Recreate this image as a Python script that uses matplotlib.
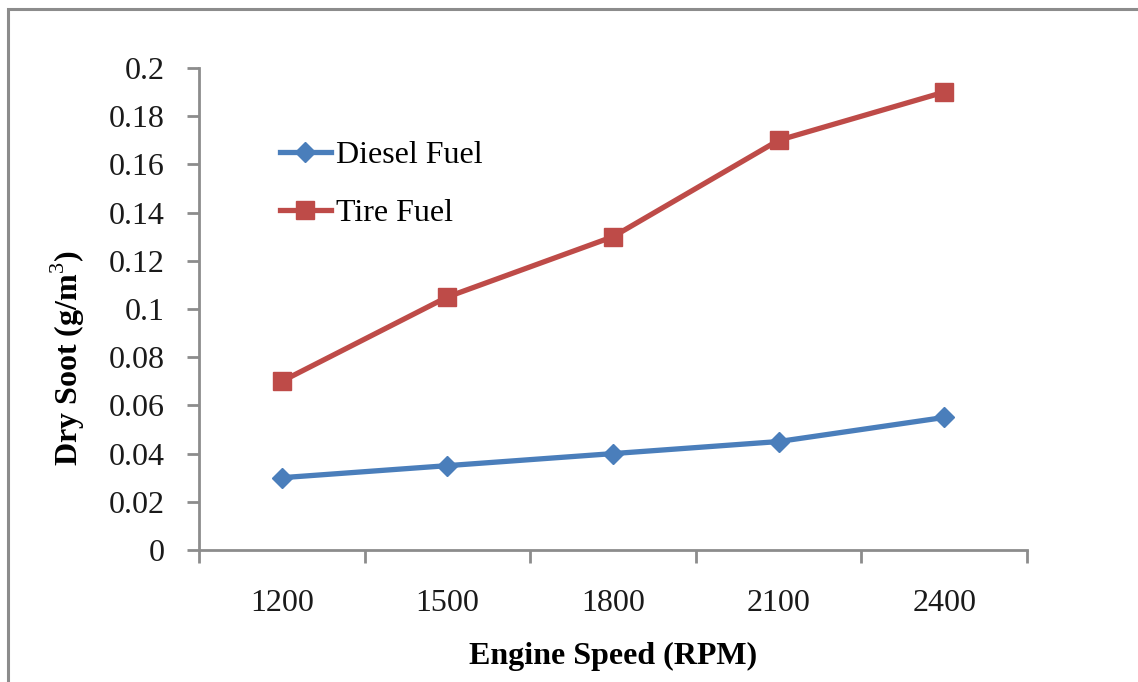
import matplotlib
matplotlib.use("Agg")
import matplotlib.pyplot as plt
from matplotlib.patches import Rectangle

categories = ["1200", "1500", "1800", "2100", "2400"]
diesel = [0.03, 0.035, 0.04, 0.045, 0.055]
tire = [0.07, 0.105, 0.13, 0.17, 0.19]
yticks = [0, 0.02, 0.04, 0.06, 0.08, 0.1, 0.12, 0.14, 0.16, 0.18, 0.2]
ytick_labels = ["0", "0.02", "0.04", "0.06", "0.08", "0.1", "0.12", "0.14", "0.16", "0.18", "0.2"]

plt.rcParams['font.family'] = ['Liberation Serif', 'DejaVu Serif']
plt.rcParams['mathtext.fontset'] = 'custom'
plt.rcParams['mathtext.rm'] = 'Liberation Serif'
plt.rcParams['mathtext.bf'] = 'Liberation Serif:bold'

W, H = 1138, 682
fig = plt.figure(figsize=(W / 100, H / 100), dpi=100)
fig.patch.set_facecolor('white')

# outer frame (top and left visible)
fig.add_artist(Rectangle((7.5 / W, -0.1), 1.2, 1.1 - 8.5 / H, transform=fig.transFigure,
                         fill=False, edgecolor='#8c8c8c', linewidth=2.2))

ax = fig.add_axes([199 / W, 1 - 550 / H, (1027 - 199) / W, (550 - 68) / H])
x = list(range(len(categories)))
ax.plot(x, diesel, color='#4a7ebb', linewidth=3.8, marker='D', markersize=10,
        markerfacecolor='#4a7ebb', markeredgecolor='#4a7ebb', label='Diesel Fuel')
ax.plot(x, tire, color='#be4b48', linewidth=3.8, marker='s', markersize=13,
        markerfacecolor='#be4b48', markeredgecolor='#be4b48', label='Tire Fuel')

ax.set_xlim(-0.5, len(categories) - 0.5)
ax.set_ylim(0, 0.2)
ax.set_yticks(yticks)
ax.set_yticklabels(ytick_labels)
ax.set_xticks(x)
ax.set_xticklabels(categories)
ax.set_xticks([i - 0.5 for i in range(len(categories) + 1)], minor=True)
ax.tick_params(axis='x', which='major', length=0, pad=28, labelsize=23, colors='#1a1a1a')
ax.tick_params(axis='x', which='minor', length=9, width=2, color='#8c8c8c', direction='out')
ax.tick_params(axis='y', length=9, width=2, color='#8c8c8c', direction='out', pad=16,
               labelsize=23, labelcolor='#1a1a1a')

for s in ['top', 'right']:
    ax.spines[s].set_visible(False)
for s in ['left', 'bottom']:
    ax.spines[s].set_color('#8c8c8c')
    ax.spines[s].set_linewidth(2)

ax.set_xlabel('Engine Speed (RPM)', fontsize=23, fontweight='bold', labelpad=17)
fig.text(68 / W, 1 - 358 / H, 'Dry Soot (g/m$^{\\mathrm{3}}$)', fontsize=23, fontweight='bold',
         rotation=90, ha='center', va='center')

leg = ax.legend(loc='upper left', bbox_to_anchor=(0.082, 0.875), frameon=False,
                fontsize=23, handlelength=1.6, handletextpad=0.15, labelspacing=0.9,
                borderaxespad=0)

fig.savefig('out.png', dpi=100)
